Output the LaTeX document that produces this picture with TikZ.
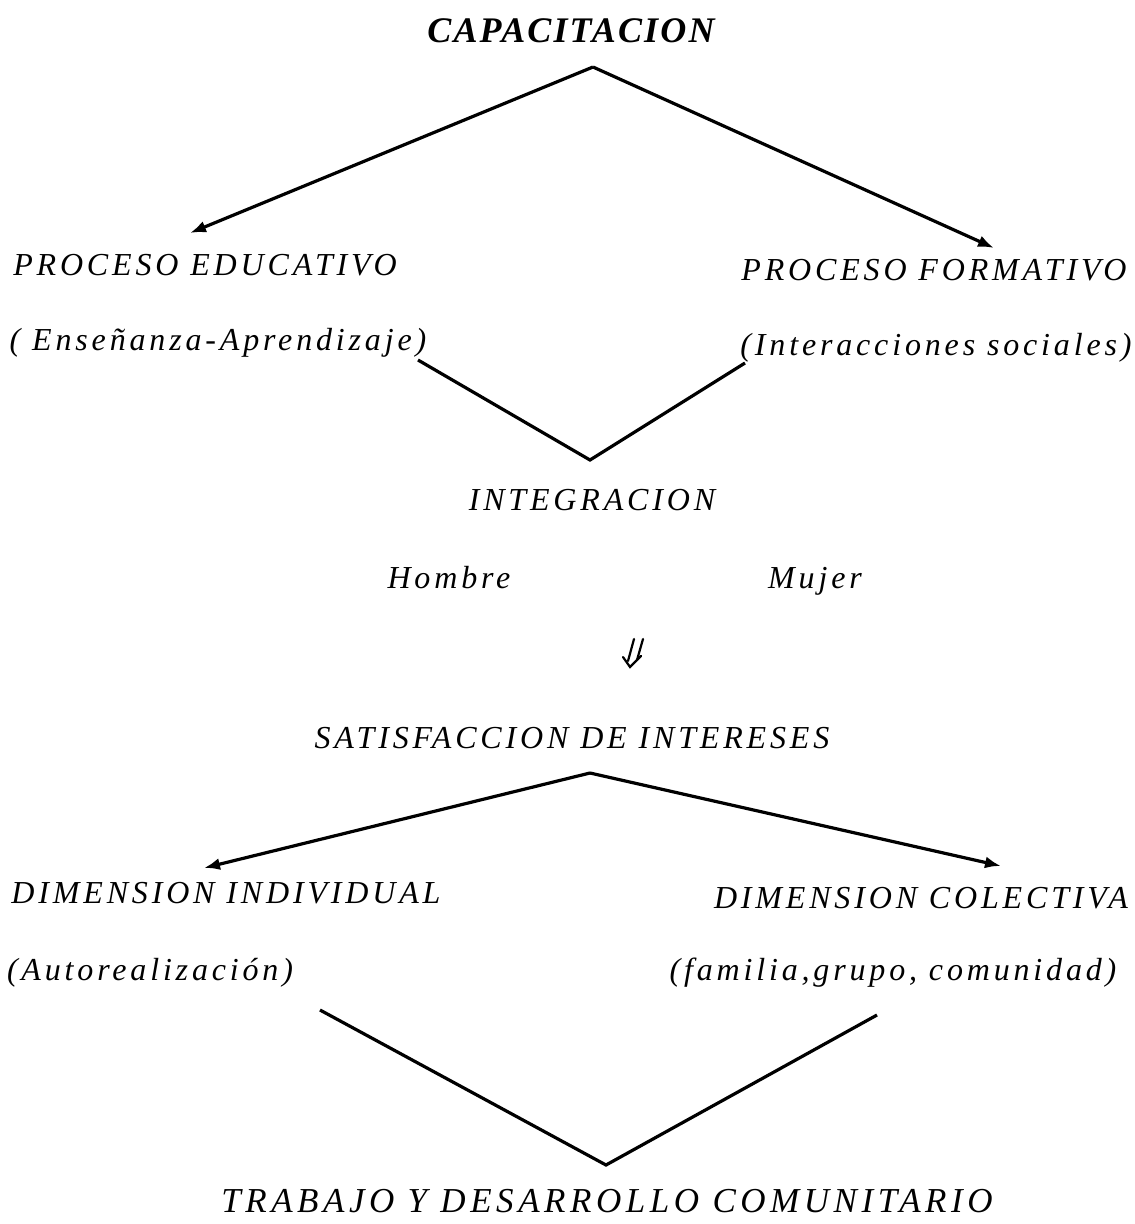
\documentclass[tikz,border=0pt]{standalone}
\usepackage{fontspec}
\setmainfont{Liberation Serif}
\newfontfamily\spfont[LetterSpace=12]{Liberation Serif}
\newfontfamily\wspfont[LetterSpace=13]{Liberation Serif}
\newfontfamily\tspfont[LetterSpace=6]{Liberation Serif}
\usetikzlibrary{arrows.meta}
\begin{document}
\begin{tikzpicture}[x=1pt,y=-1pt,
  lbl/.style={anchor=base,inner sep=0pt,font=\spfont\itshape\fontsize{32}{38}\selectfont},
  big/.style={anchor=base,inner sep=0pt,font=\wspfont\itshape\fontsize{35}{42}\selectfont},
  ttl/.style={anchor=base,inner sep=0pt,font=\tspfont\bfseries\itshape\fontsize{36}{42}\selectfont},
  conn/.style={line width=3.2pt,line join=miter},
  dbl/.style={line width=2.2pt,line join=miter,line cap=round},
  arr/.style={conn,-{Latex[length=16pt,width=12pt]}}]
\useasboundingbox (0,0) rectangle (1135,1224);
\node[ttl] (cap) at (571,42) {CAPACITACION};
\coordinate (a1) at (593,67);
\coordinate (pet) at (190,233);
\coordinate (pft) at (994,248);
\node[lbl] (pe) at (205,275) {PROCESO EDUCATIVO};
\node[lbl] (ea) at (218,350) {( Enseñanza-Aprendizaje)};
\node[lbl] (pf) at (934,280) {PROCESO FORMATIVO};
\node[lbl] (is) at (936,355) {(Interacciones sociales)};
\coordinate (v1l) at (418,360);
\coordinate (v1b) at (590,460);
\coordinate (v1r) at (745,363);
\node[lbl] (int) at (592,510) {INTEGRACION};
\node[lbl] (hom) at (449,588) {Hombre};
\node[lbl] (muj) at (815,588) {Mujer};
% slanted double arrow
\draw[dbl] (634,639) -- (628,661);
\draw[dbl] (643,639) -- (637,660);
\draw[dbl] (623,657) -- (630,667) -- (641,656);
\node[lbl] (sat) at (572,748) {SATISFACCION DE INTERESES};
\coordinate (a2) at (590,773);
\coordinate (dit) at (204,868);
\coordinate (dct) at (1001,866);
\node[lbl] (di) at (226,903) {DIMENSION INDIVIDUAL};
\node[lbl] (dc) at (921,908) {DIMENSION COLECTIVA};
\node[lbl] (aut) at (150,980) {(Autorealización)};
\node[lbl] (fam) at (893,980) {(familia,grupo, comunidad)};
\coordinate (v2l) at (320,1010);
\coordinate (v2b) at (606,1165);
\coordinate (v2r) at (877,1015);
\node[big] (tdc) at (607,1212) {TRABAJO Y DESARROLLO COMUNITARIO};
\draw[arr] (a1) -- (pet);
\draw[arr] (a1) -- (pft);
\draw[conn] (v1l) -- (v1b) -- (v1r);
\draw[arr] (a2) -- (dit);
\draw[arr] (a2) -- (dct);
\draw[conn] (v2l) -- (v2b) -- (v2r);
\end{tikzpicture}
\end{document}
